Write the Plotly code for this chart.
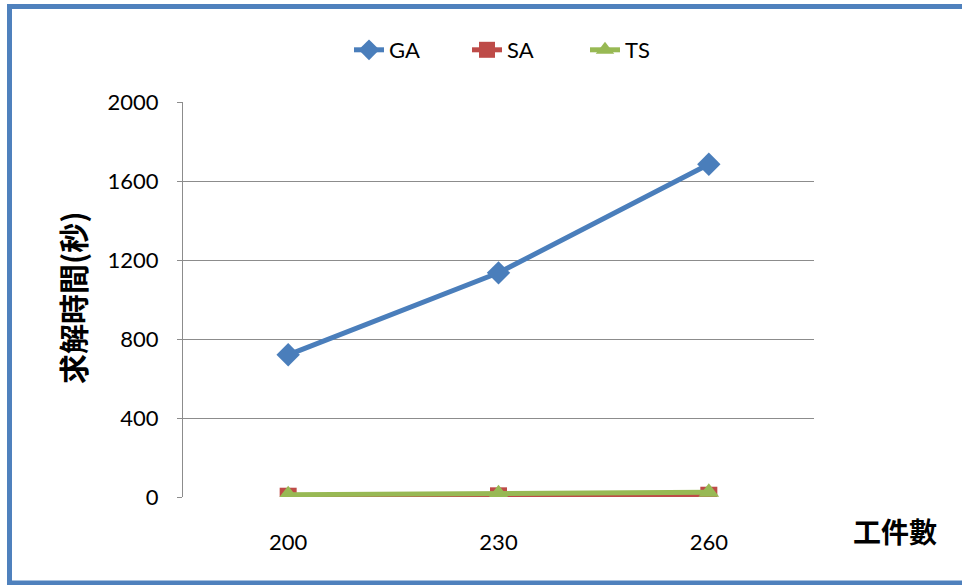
import plotly.graph_objects as go

categories = ["200", "230", "260"]
ga_values = [720, 1135, 1685]
sa_values = [4, 6, 9]
ts_values = [12, 17, 24]
y_ticks = [0, 400, 800, 1200, 1600, 2000]

W, H = 962, 585
L, R, T, B = 183, 148, 102, 88
pw, ph = W - L - R, H - T - B

def px_x(p):
    return (p - L) / pw

def px_y(p):
    return (H - B - p) / ph

fig = go.Figure()
fig.add_trace(go.Scatter(x=categories, y=ga_values, name="GA", mode="lines+markers",
                         line=dict(color="#4A7EBB", width=5),
                         marker=dict(symbol="diamond", size=18, color="#4A7EBB")))
fig.add_trace(go.Scatter(x=categories, y=sa_values, name="SA", mode="lines+markers",
                         line=dict(color="#BE4B48", width=5),
                         marker=dict(symbol="square", size=17, color="#BE4B48")))
fig.add_trace(go.Scatter(x=categories, y=ts_values, name="TS", mode="lines+markers",
                         line=dict(color="#98B954", width=5),
                         marker=dict(symbol="triangle-up", size=18, color="#98B954")))

font_family = "Lato, 'Open Sans', sans-serif"

fig.update_layout(
    width=W, height=H,
    margin=dict(l=L, r=R, t=T, b=B),
    paper_bgcolor="white", plot_bgcolor="white",
    font=dict(family=font_family, size=22, color="black"),
    showlegend=True,
    legend=dict(orientation="h", x=px_x(349), xanchor="left", y=px_y(50), yanchor="middle",
                font=dict(size=22, family=font_family), entrywidth=73, entrywidthmode="pixels",
                traceorder="normal"),
    xaxis=dict(type="category", range=[-0.5, 2.5], showgrid=False, zeroline=False,
               showline=False, ticks="", ticklabelstandoff=30,
               tickfont=dict(size=22, family=font_family)),
    yaxis=dict(range=[0, 2000], tickvals=y_ticks, showgrid=True, gridcolor="#8C8C8C",
               gridwidth=1, zeroline=False, showline=True, linecolor="#8C8C8C", linewidth=1,
               ticks="outside", ticklen=5, tickcolor="#8C8C8C", ticklabelstandoff=14,
               tickfont=dict(size=22, family=font_family)),
    annotations=[
        dict(text="求解時間(秒)", xref="paper", yref="paper", x=px_x(72), y=px_y(298),
             textangle=-90, showarrow=False, xanchor="center", yanchor="middle",
             font=dict(family="Noto Sans CJK TC", size=30, color="black", weight="bold")),
        dict(text="工件數", xref="paper", yref="paper", x=px_x(895), y=px_y(531),
             showarrow=False, xanchor="center", yanchor="middle",
             font=dict(family="Noto Sans CJK TC", size=28, color="black", weight="bold")),
    ],
    shapes=[
        dict(type="rect", xref="paper", yref="paper",
             x0=px_x(9.5), x1=px_x(975), y0=px_y(583), y1=px_y(6.5),
             line=dict(color="#4F81BD", width=5), fillcolor="rgba(0,0,0,0)", layer="above"),
    ],
)

fig.write_html("out.html", config={"displayModeBar": False},
               post_script="document.body.style.margin='0px';")
